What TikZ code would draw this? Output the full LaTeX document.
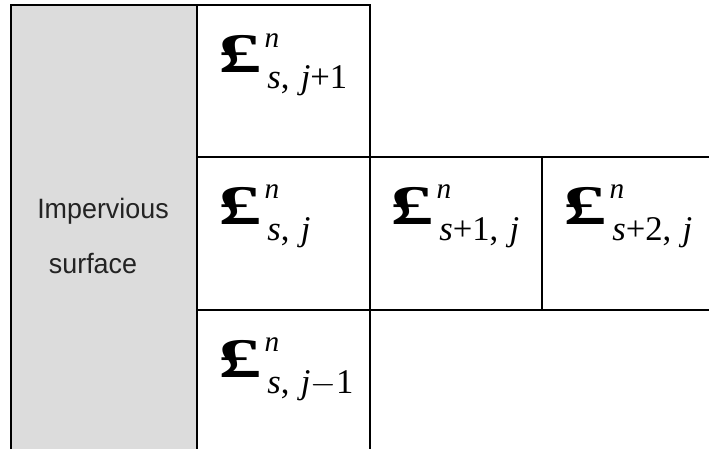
\documentclass[tikz,border=0pt]{standalone}
\usepackage{fontspec}
\setmainfont{Liberation Serif}
\setsansfont{Liberation Sans}
\usepackage{graphicx}
\usetikzlibrary{positioning}
\definecolor{pavegray}{RGB}{220,220,220}
\definecolor{labelgray}{RGB}{35,35,35}
\newcommand{\bigpound}{\kern-2pt\scalebox{1.55}[1]{\fontsize{42}{42}\selectfont\bfseries £}}
\newcommand{\fluxsym}[1]{\makebox[30.5pt][l]{\bigpound}\kern2pt\rlap{\raisebox{19pt}{\fontsize{22}{22}\selectfont\itshape n}}\kern2pt\raisebox{-12pt}{\fontsize{26}{26}\selectfont #1}}
\newcommand{\narrowtext}[1]{\scalebox{0.96}[1]{#1}}

\begin{document}
\begin{tikzpicture}[x=0.75pt,y=-0.75pt,
  gridline/.style={line width=1.4pt,black},
  fluxlabel/.style={anchor=base west,inner sep=0pt},
  sidelabel/.style={anchor=base,inner sep=0pt,text=labelgray,font=\sffamily\fontsize{21}{21}\selectfont}]
\useasboundingbox (0,0) rectangle (709,449);
% impervious strip
\fill[pavegray] (11,5) rectangle (197,449);
\node[sidelabel] (imp) at (103,218) {\narrowtext{Impervious}};
\node[sidelabel] (surf) at (93,273) {\narrowtext{surface}};
% cell borders
\draw[gridline] (11,449) -- (11,5) -- (370,5) -- (370,449);
\draw[gridline] (197,5) -- (197,449);
\draw[gridline] (197,157) -- (709,157);
\draw[gridline] (197,310) -- (709,310);
\draw[gridline] (542,157) -- (542,310);
% cell values
\node[fluxlabel] (up) at (221,73) {\fluxsym{\textit{s},\hspace{2pt} \textit{j}+1}};
\node[fluxlabel] (mid) at (221,224) {\fluxsym{\textit{s},\hspace{2pt} \textit{j}}};
\node[fluxlabel] (east) at (393,224) {\fluxsym{\textit{s}+1,\hspace{2pt} \textit{j}}};
\node[fluxlabel] (farEast) at (566,224) {\fluxsym{\textit{s}+2,\hspace{2pt} \textit{j}}};
\node[fluxlabel] (down) at (221,377) {\fluxsym{\textit{s},\hspace{2pt} \textit{j}$-$1}};
\end{tikzpicture}
\end{document}
